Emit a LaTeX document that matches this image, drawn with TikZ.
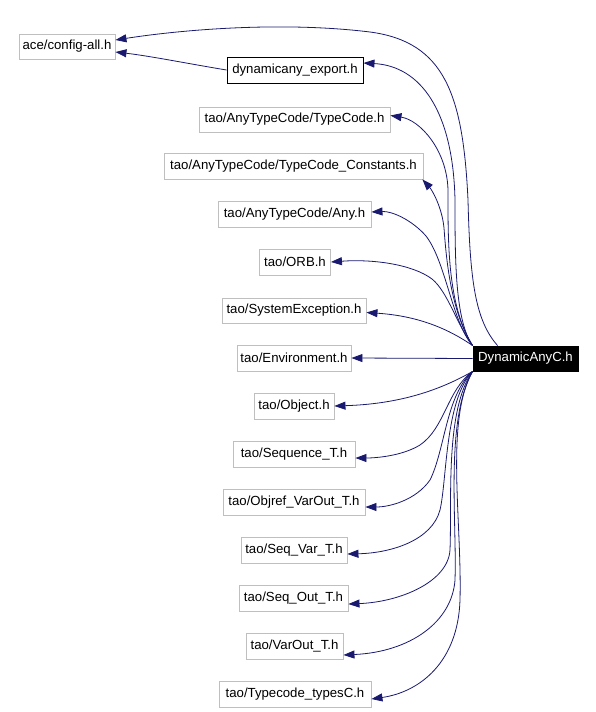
\documentclass[tikz,border=0pt]{standalone}
\usepackage{fontspec}
\setmainfont{Liberation Sans}
\usetikzlibrary{arrows.meta}
\definecolor{edgecol}{RGB}{25,25,112}
\definecolor{boxgrey}{RGB}{191,191,191}
\begin{document}
\begin{tikzpicture}[x=1pt,y=-1pt,
  box/.style={draw=boxgrey,line width=0.9pt,fill=white,inner sep=0pt,minimum height=26pt,font=\fontsize{13.2}{15}\selectfont},
  boxdark/.style={box,draw=black},
  rootbox/.style={box,draw=black,fill=black,text=white},
  edge/.style={draw=edgecol,line width=0.8pt,-{Triangle[length=11pt,width=8pt]}}]
\useasboundingbox (0,0) rectangle (595,712);
\node[box,minimum width=96pt,minimum height=25pt] (c0) at (67,46.5) {ace/config-all.h};
\node[boxdark,minimum width=136pt] (c1) at (295,70) {dynamicany\_export.h};
\node[box,minimum width=191pt,minimum height=25pt] (c2) at (294.5,119.5) {tao/AnyTypeCode/TypeCode.h};
\node[box,minimum width=259pt] (c3) at (293.5,166) {tao/AnyTypeCode/TypeCode\_Constants.h};
\node[box,minimum width=153pt] (c4) at (294.5,214) {tao/AnyTypeCode/Any.h};
\node[box,minimum width=71pt] (c5) at (295,262) {tao/ORB.h};
\node[box,minimum width=144pt,minimum height=25pt] (c6) at (294,310.5) {tao/SystemException.h};
\node[box,minimum width=114pt] (c7) at (294,358) {tao/Environment.h};
\node[box,minimum width=80pt] (c8) at (294,406) {tao/Object.h};
\node[box,minimum width=122pt] (c9) at (294,454) {tao/Sequence\_T.h};
\node[box,minimum width=142pt] (c10) at (294,502) {tao/Objref\_VarOut\_T.h};
\node[box,minimum width=106pt] (c11) at (294,550) {tao/Seq\_Var\_T.h};
\node[box,minimum width=109pt] (c12) at (293.5,598) {tao/Seq\_Out\_T.h};
\node[box,minimum width=97pt] (c13) at (294.5,646) {tao/VarOut\_T.h};
\node[box,minimum width=152pt] (c14) at (295,694) {tao/Typecode\_typesC.h};
\node[rootbox,minimum width=105pt,minimum height=25pt] (D) at (525.5,358.5) {DynamicAnyC.h};
% edges
\draw[edge] ([xshift=25pt]D.north west) .. controls (475,320) and (470,280) .. (468,200)
  .. controls (463,95) and (445,42) .. (370,32) .. controls (280,21) and (180,30) .. ([yshift=6.5pt]c0.east);
\draw[edge] (c1.west) .. controls (190,64) and (150,56) .. ([yshift=-5.5pt]c0.east);
\draw[edge] (D.north west) .. controls (455,320) and (455,260) .. (455,200)
  .. controls (453,110) and (420,66) .. ([yshift=7pt]c1.east);
\draw[edge] (D.north west) .. controls (447,305) and (448,240) .. (448,190)
  .. controls (447,150) and (420,120) .. ([yshift=4pt]c2.east);
\draw[edge] (D.north west) .. controls (450,310) and (446,255) .. (444,228)
  .. controls (442,207) and (432,190) .. ([xshift=-1pt]c3.south east);
\draw[edge] (D.north west) .. controls (452,322) and (446,262) .. (426,236)
  .. controls (412,220) and (392,211) .. ([yshift=2pt]c4.east);
\draw[edge] (D.north west) .. controls (457,325) and (448,292) .. (432,279)
  .. controls (412,264) and (372,259) .. (c5.east);
\draw[edge] (D.north west) .. controls (450,330) and (420,316) .. ([yshift=-2pt]c6.east);
\draw[edge] (D.west) -- (c7.east);
\draw[edge] (D.south west) .. controls (440,390) and (400,404) .. (c8.east);
\draw[edge] (D.south west) .. controls (447,390) and (445,428) .. (420,445)
  .. controls (402,456) and (376,458) .. ([yshift=-4pt]c9.east);
\draw[edge] (D.south west) .. controls (446,395) and (445,450) .. (430,480)
  .. controls (416,500) and (390,507) .. ([yshift=-5pt]c10.east);
\draw[edge] (D.south west) .. controls (445,400) and (447,480) .. (440,510)
  .. controls (432,540) and (392,553) .. ([yshift=-4pt]c11.east);
\draw[edge] (D.south west) .. controls (445,410) and (452,500) .. (450,550)
  .. controls (448,582) and (400,602) .. ([yshift=-6pt]c12.east);
\draw[edge] (D.south west) .. controls (445,420) and (457,520) .. (455,580)
  .. controls (452,622) and (410,652) .. ([yshift=-9pt]c13.east);
\draw[edge] (D.south west) .. controls (445,420) and (462,520) .. (460,600)
  .. controls (458,662) and (420,692) .. ([yshift=-5pt]c14.east);
\end{tikzpicture}
\end{document}
